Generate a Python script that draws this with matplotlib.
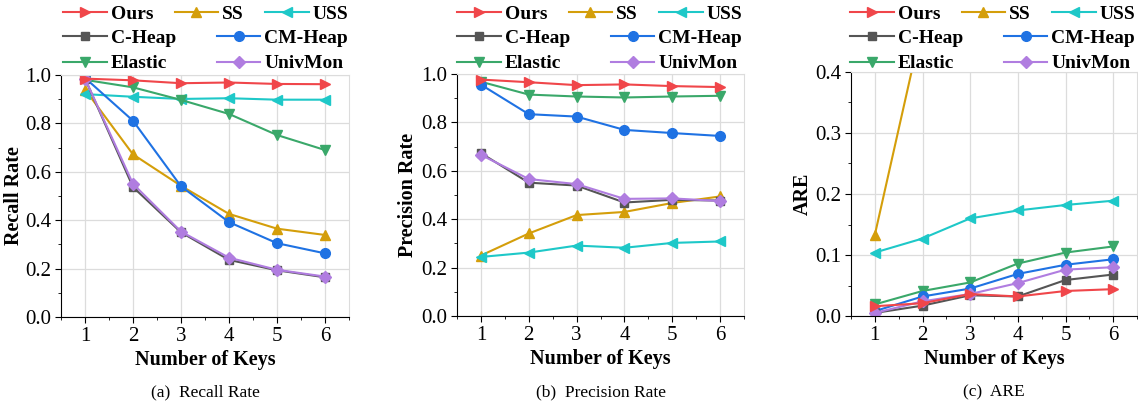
import matplotlib

matplotlib.use("Agg")

import matplotlib.pyplot as plt
from matplotlib.ticker import MultipleLocator

plt.rcParams["font.family"] = ["Liberation Serif", "DejaVu Serif"]

keys = [1, 2, 3, 4, 5, 6]
names = ["Ours", "SS", "USS", "C-Heap", "CM-Heap", "Elastic", "UnivMon"]

recall = {
    "Ours": [0.985, 0.978, 0.966, 0.969, 0.963, 0.962],
    "SS": [0.940, 0.672, 0.542, 0.426, 0.365, 0.339],
    "USS": [0.921, 0.910, 0.901, 0.904, 0.898, 0.898],
    "C-Heap": [0.985, 0.537, 0.350, 0.236, 0.193, 0.164],
    "CM-Heap": [0.988, 0.811, 0.540, 0.392, 0.305, 0.263],
    "Elastic": [0.980, 0.949, 0.897, 0.839, 0.752, 0.690],
    "UnivMon": [0.985, 0.550, 0.353, 0.245, 0.195, 0.167],
}
precision = {
    "Ours": [0.977, 0.966, 0.954, 0.957, 0.950, 0.946],
    "SS": [0.250, 0.341, 0.417, 0.430, 0.467, 0.494],
    "USS": [0.244, 0.262, 0.291, 0.282, 0.302, 0.308],
    "C-Heap": [0.673, 0.551, 0.539, 0.469, 0.480, 0.477],
    "CM-Heap": [0.956, 0.834, 0.824, 0.769, 0.756, 0.744],
    "Elastic": [0.968, 0.915, 0.907, 0.903, 0.907, 0.910],
    "UnivMon": [0.666, 0.566, 0.545, 0.484, 0.486, 0.475],
}
are = {
    "Ours": [0.016, 0.021, 0.036, 0.032, 0.041, 0.044],
    "SS": [0.133, 0.480, 0.760, 0.950, 1.100, 1.200],
    "USS": [0.104, 0.127, 0.160, 0.173, 0.182, 0.189],
    "C-Heap": [0.005, 0.017, 0.034, 0.032, 0.059, 0.068],
    "CM-Heap": [0.008, 0.032, 0.045, 0.069, 0.084, 0.093],
    "Elastic": [0.019, 0.041, 0.055, 0.086, 0.104, 0.114],
    "UnivMon": [0.005, 0.024, 0.036, 0.054, 0.076, 0.080],
}

colors = {
    "Ours": "#f0464a",
    "SS": "#d49e0a",
    "USS": "#1ec8c8",
    "C-Heap": "#555555",
    "CM-Heap": "#1f72e3",
    "Elastic": "#3aa86a",
    "UnivMon": "#b07de0",
}
markers = {
    "Ours": ">",
    "SS": "^",
    "USS": "<",
    "C-Heap": "s",
    "CM-Heap": "o",
    "Elastic": "v",
    "UnivMon": "D",
}
msizes = {"Ours": 7.5, "SS": 7.5, "USS": 7.5, "C-Heap": 6, "CM-Heap": 7, "Elastic": 7.5, "UnivMon": 6}
draw_order = ["SS", "USS", "Elastic", "CM-Heap", "C-Heap", "UnivMon", "Ours"]

W, H = 1138, 408

# data, y label, caption, y max, y step, axes box in pixels (left, top, right, bottom), legend x, ylabel x
panels = [
    (recall, "Recall Rate", "(a)  Recall Rate", 1.0, 0.2, (61, 75, 349, 317), 63, 24),
    (precision, "Precision Rate", "(b)  Precision Rate", 1.0, 0.2, (457, 74, 744, 316), 457, 418),
    (are, "ARE", "(c)  ARE", 0.4, 0.1, (851, 72, 1137, 316), 850, 813),
]

fig = plt.figure(figsize=(W / 100, H / 100), dpi=100)

for data, ylabel, caption, ytop, ystep, box, legx, labx in panels:
    l, t, r, b = box
    ax = fig.add_axes([l / W, 1 - b / H, (r - l) / W, (b - t) / H])
    lines = {}
    for name in draw_order:
        (ln,) = ax.plot(
            keys,
            data[name],
            color=colors[name],
            marker=markers[name],
            markersize=msizes[name],
            linewidth=1.5,
            label=name,
        )
        lines[name] = ln
    ax.set_xlim(0.5, 6.5)
    ax.set_ylim(0, ytop)
    ax.xaxis.set_major_locator(MultipleLocator(1))
    ax.xaxis.set_minor_locator(MultipleLocator(0.5))
    ax.yaxis.set_major_locator(MultipleLocator(ystep))
    ax.yaxis.set_minor_locator(MultipleLocator(ystep / 2))
    ax.grid(True, which="major", color="#dcdcdc", linewidth=0.9)
    ax.set_axisbelow(True)
    for s in ["top", "right"]:
        ax.spines[s].set_color("#dcdcdc")
    ax.tick_params(which="both", direction="out", labelsize=15, top=False, right=False)
    ax.tick_params(which="major", length=4, pad=3)
    ax.tick_params(which="minor", length=2.5)
    ax.set_xlabel("Number of Keys", fontsize=14.5, fontweight="bold", labelpad=3)
    ax.set_ylabel(ylabel, fontsize=14.5, fontweight="bold")
    ax.yaxis.set_label_coords((labx - l) / (r - l), 0.5)
    fig.text((l + r) / 2 / W, 1 - 392 / H, caption, ha="center", va="center", fontsize=12.5)

    fig.legend(
        [lines[n] for n in ["Ours", "SS", "USS"]],
        ["Ours", "SS", "USS"],
        ncol=3,
        loc="center left",
        bbox_to_anchor=(legx / W, 1 - 14 / H),
        frameon=False,
        prop={"weight": "bold", "size": 14},
        handlelength=2.25,
        handletextpad=0.2,
        columnspacing=1.1,
        borderpad=0,
        borderaxespad=0,
    )
    fig.legend(
        [lines[n] for n in ["C-Heap", "Elastic", "CM-Heap", "UnivMon"]],
        ["C-Heap", "Elastic", "CM-Heap", "UnivMon"],
        ncol=2,
        loc="center left",
        bbox_to_anchor=(legx / W, 1 - 51 / H),
        frameon=False,
        prop={"weight": "bold", "size": 14},
        handlelength=2.25,
        handletextpad=0.2,
        columnspacing=2.1,
        labelspacing=0.4,
        borderpad=0,
        borderaxespad=0,
    )

fig.savefig("out.png", dpi=100)
